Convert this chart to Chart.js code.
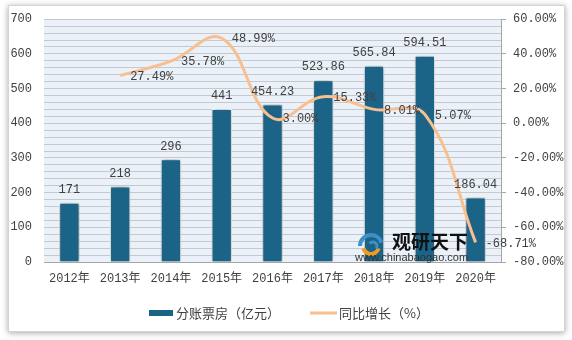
<!DOCTYPE html>
<html><head><meta charset="utf-8">
<script src="https://cdn.jsdelivr.net/npm/chart.js@4/dist/chart.umd.min.js"></script>
<style>html,body{margin:0;padding:0;background:#fff;}#wrap{width:572px;height:340px;position:relative;}</style>
</head><body><div id="wrap"><canvas id="c" width="572" height="340"></canvas></div>
<script>
const categories = ['2012年','2013年','2014年','2015年','2016年','2017年','2018年','2019年','2020年'];
const boxOffice = [171, 218, 296, 441, 454.23, 523.86, 565.84, 594.51, 186.04];
const growth = [null, 27.49, 35.78, 48.99, 3.00, 15.33, 8.01, 5.07, -68.71];
const barLabels = ['171','218','296','441','454.23','523.86','565.84','594.51','186.04'];
const lineLabels = [null,'27.49%','35.78%','48.99%','3.00%','15.33%','8.01%','5.07%','-68.71%'];
const seriesNames = ['分账票房（亿元）','同比增长（%）'];

const NUMFONT = '"Liberation Mono", "Noto Sans CJK SC", monospace';
const CJKFONT = '"Noto Sans CJK SC", sans-serif';
const TXT = '#404040';
const BAR = '#1B6488';
const LINE = '#F8BF8F';

const framePlugin = {
  id:'frame',
  beforeDraw(chart){
    const ctx = chart.ctx;
    ctx.save();
    ctx.shadowColor='rgba(0,0,0,0.35)';ctx.shadowBlur=6;ctx.shadowOffsetX=0;ctx.shadowOffsetY=1;
    ctx.fillStyle='#fff';ctx.fillRect(8,5,557,327);
    ctx.restore();
    ctx.save();ctx.strokeStyle='#D4D4D4';ctx.lineWidth=1;ctx.strokeRect(8.5,5.5,556,326);ctx.restore();
    const a = chart.chartArea;
    ctx.save();ctx.fillStyle='#EAF1F8';ctx.fillRect(a.left,a.top,a.right-a.left,a.bottom-a.top);ctx.restore();
  },
  beforeDatasetDraw(chart,args){
    if(args.index===0){const ctx=chart.ctx;ctx.save();ctx.shadowColor='rgba(0,0,0,0.45)';ctx.shadowBlur=5;}
  },
  afterDatasetDraw(chart,args){
    if(args.index===0){chart.ctx.restore();}
  },
  afterDatasetsDraw(chart){
    const ctx = chart.ctx;
    // watermark
    ctx.save();
    const lx=371, ly=246;
    ctx.lineWidth=4;
    ctx.strokeStyle='#3F8FC9';ctx.beginPath();ctx.arc(lx,ly,11,Math.PI*1.0,Math.PI*1.9);ctx.stroke();
    ctx.strokeStyle='#F39A1E';ctx.beginPath();ctx.arc(lx,ly,8,Math.PI*0.1,Math.PI*0.9);ctx.stroke();
    ctx.strokeStyle='#3F8FC9';ctx.lineWidth=3;ctx.beginPath();ctx.arc(lx+2,ly,4,Math.PI*1.2,Math.PI*2.2);ctx.stroke();
    ctx.fillStyle='#111';ctx.font='bold 19px '+CJKFONT;ctx.textBaseline='middle';ctx.textAlign='left';
    ctx.fillText('观研天下',392,242);
    ctx.fillStyle='#333';ctx.font='11px "Liberation Sans", sans-serif';
    ctx.fillText('www.chinabaogao.com',355,258);
    ctx.restore();
    // data labels
    const m0 = chart.getDatasetMeta(0), m1 = chart.getDatasetMeta(1);
    ctx.save();
    ctx.fillStyle=TXT;ctx.font='12px '+NUMFONT;
    ctx.textAlign='center';ctx.textBaseline='bottom';
    m0.data.forEach((el,i)=>{ctx.fillText(barLabels[i],el.x,el.y-7);});
    ctx.textAlign='left';ctx.textBaseline='middle';
    m1.data.forEach((el,i)=>{ if(lineLabels[i]) ctx.fillText(lineLabels[i],el.x+10,el.y+1);});
    ctx.restore();
  },
  afterDraw(chart){
    const ctx=chart.ctx;
    ctx.save();
    const y=313;
    ctx.fillStyle=chart.data.datasets[0].backgroundColor;
    ctx.fillRect(149,y-3,24,6);
    ctx.strokeStyle=chart.data.datasets[1].borderColor;ctx.lineWidth=3;
    ctx.beginPath();ctx.moveTo(310,y);ctx.lineTo(337,y);ctx.stroke();
    ctx.fillStyle=TXT;ctx.font='13px '+CJKFONT;ctx.textBaseline='middle';ctx.textAlign='left';
    ctx.fillText(chart.data.datasets[0].label,176,y);
    ctx.fillText(chart.data.datasets[1].label,339,y);
    ctx.restore();
  }
};

new Chart(document.getElementById('c'),{
  data:{
    labels:categories,
    datasets:[
      {type:'bar',label:seriesNames[0],data:boxOffice,backgroundColor:BAR,borderColor:'#FFFFFF',borderWidth:1,
       barPercentage:0.4,categoryPercentage:1,yAxisID:'y',order:2},
      {type:'line',label:seriesNames[1],data:growth,borderColor:LINE,borderWidth:3,tension:0.4,pointRadius:0,
       fill:false,yAxisID:'y1',order:1,spanGaps:false}
    ]
  },
  options:{
    responsive:false,animation:false,
    layout:{padding:{top:14,left:0,right:0,bottom:0}},
    plugins:{legend:{display:false},tooltip:{enabled:false}},
    scales:{
      x:{
        grid:{display:false,drawTicks:false},
        border:{display:true,color:'#A6A6A6',width:1},
        ticks:{color:TXT,font:{family:NUMFONT,size:12},padding:10,maxRotation:0,autoSkip:false},
        afterFit(s){s.height=78;}
      },
      y:{
        position:'left',min:0,max:700,
        grid:{color:'#C5C9CD',lineWidth:1,drawTicks:false},
        border:{display:false},
        ticks:{stepSize:20,autoSkip:false,color:TXT,font:{family:NUMFONT,size:12},padding:12,
          callback(v){return v%100===0?String(v):'';}},
        afterFit(s){s.width=44;}
      },
      y1:{
        position:'right',min:-80,max:60,
        grid:{drawOnChartArea:false,color:'#A6A6A6',tickLength:5},
        border:{display:true,color:'#A6A6A6'},
        ticks:{stepSize:20,autoSkip:false,color:TXT,font:{family:NUMFONT,size:12},padding:7,
          callback(v){return v.toFixed(2)+'%';}},
        afterFit(s){s.width=71;}
      }
    }
  },
  plugins:[framePlugin]
});
</script></body></html>
